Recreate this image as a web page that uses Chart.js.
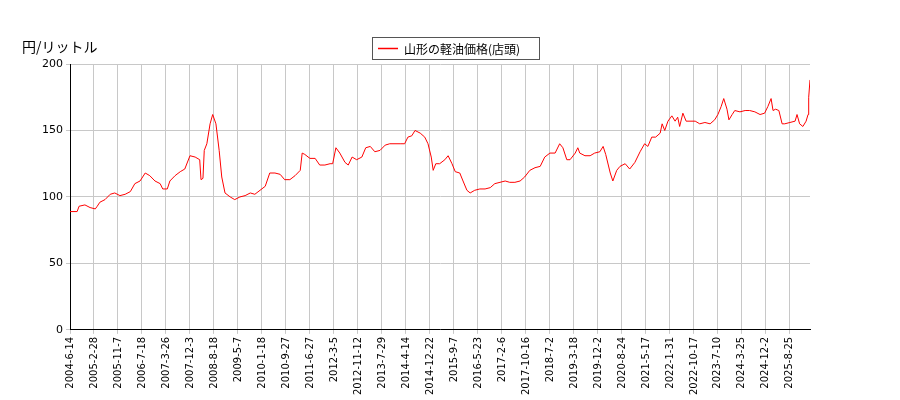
<!DOCTYPE html>
<html><head><meta charset="utf-8">
<script src="https://cdn.jsdelivr.net/npm/chart.js@4/dist/chart.umd.min.js"></script>
<style>body{margin:0;background:#fff}#w{width:900px;height:400px}</style></head>
<body><div id="w"><canvas id="c"></canvas></div>
<script>
const tickLabels=["2004-6-14","2005-2-28","2005-11-7","2006-7-18","2007-3-26","2007-12-3","2008-8-18","2009-5-7","2010-1-18","2010-9-27","2011-6-27","2012-3-5","2012-11-12","2013-7-29","2014-4-14","2014-12-22","2015-9-7","2016-5-23","2017-2-6","2017-10-16","2018-7-2","2019-3-18","2019-12-2","2020-8-24","2021-5-17","2022-1-31","2022-10-17","2023-7-10","2024-3-25","2024-12-2","2025-8-25"];
const weeks=[0,11,14,23,31,39,42,46,54,62,69,77,85,93,100,108,116,123,131,139,143,150,154,162,170,177,185,193,200,202,205,207,211,216,220,225,230,234,239,247,254,262,270,278,285,293,301,308,316,324,331,339,347,355,358,362,370,378,385,393,401,405,410,416,424,429,435,442,450,456,463,470,478,486,493,509,516,521,527,532,540,547,552,557,560,564,570,578,583,589,594,601,606,612,617,624,632,640,648,655,663,671,678,686,694,701,709,717,725,732,740,748,755,760,766,771,779,783,786,794,802,809,817,822,826,833,837,843,848,856,863,871,879,886,891,897,903,910,913,917,922,928,933,937,940,945,950,956,964,971,979,987,994,999,1004,1008,1013,1016,1021,1025,1033,1041,1048,1056,1064,1071,1076,1081,1084,1088,1093,1098,1102,1110,1118,1121,1125,1130,1135,1138,1139,1141];
const prices=[89,89,93,94,92,91,93,96,98,102,103,101,102,104,110,112,118,116,112,110,106,106,112,116,119,121,131,130,128,113,114,135,140,155,162,155,135,115,103,100,98,100,101,103,102,105,108,118,118,117,113,113,116,120,133,132,129,129,124,124,125,125,137,133,126,124,130,128,130,137,138,134,135,139,140,140,140,145,146,150,148,145,140,130,120,125,125,128,131,125,119,118,112,105,103,105,106,106,107,110,111,112,111,111,112,115,120,122,123,130,133,133,140,137,128,128,133,137,133,131,131,133,134,138,132,118,112,120,123,125,121,126,134,140,138,145,145,148,155,150,157,161,157,160,153,163,157,157,157,155,156,155,158,162,168,174,166,158,162,165,164,165,165,164,162,163,168,174,165,166,165,155,155,156,157,162,155,153,157,162,175,188];
const seriesLabel='山形の軽油価格(店頭)';
const pts=weeks.map((w,i)=>({x:w,y:prices[i]}));
const deco={id:'t',afterDraw(c){const x=c.ctx;x.save();
x.font='14px "Noto Sans CJK JP"';x.fillStyle='#000';x.textBaseline='middle';x.fillText('円/リットル',22,47);
x.strokeStyle='#555';x.lineWidth=1;x.strokeRect(372.5,37.5,167,22);
x.strokeStyle='#ff0000';x.lineWidth=1.5;x.beginPath();x.moveTo(378,48.5);x.lineTo(398,48.5);x.stroke();
x.font='12px "Noto Sans CJK JP"';x.fillText(seriesLabel,404,49);x.restore();}};
new Chart(document.getElementById('c'),{type:'line',
data:{datasets:[{label:seriesLabel,data:pts,borderColor:'#ff0000',borderWidth:1,pointRadius:0,tension:0}]},
options:{responsive:true,maintainAspectRatio:false,animation:false,
layout:{padding:{left:30,right:90,top:64,bottom:2}},
plugins:{legend:{display:false},tooltip:{enabled:false}},
scales:{x:{type:'linear',min:0,max:1141,grid:{color:'#c8c8c8',tickLength:4},border:{color:'#000'},
afterBuildTicks(a){a.ticks=tickLabels.map((_,i)=>({value:i*37}));},
ticks:{autoSkip:false,maxRotation:90,minRotation:90,color:'#000',font:{family:'"DejaVu Sans"',size:10},callback:(v)=>tickLabels[Math.round(v/37)]}},
y:{min:0,max:200,afterFit(a){a.width=40;},grid:{color:'#c8c8c8',tickLength:4},border:{color:'#000'},ticks:{stepSize:50,color:'#000',font:{family:'"DejaVu Sans"',size:11}}}}},
plugins:[deco]});
</script></body></html>
